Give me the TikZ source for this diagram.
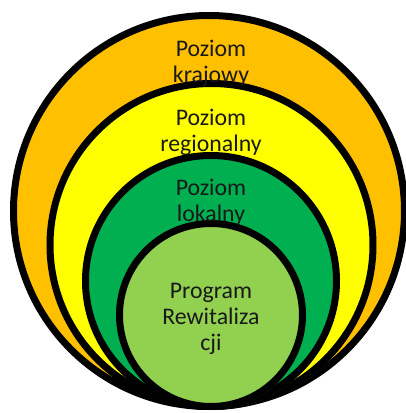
\documentclass[tikz,border=0pt]{standalone}
\usepackage{fontspec}
\setmainfont{Carlito}
\usetikzlibrary{shadows}

\definecolor{krajColor}{HTML}{FFC000}
\definecolor{regColor}{HTML}{FFFF00}
\definecolor{lokColor}{HTML}{00B050}
\definecolor{progColor}{HTML}{92D050}

\tikzset{
  ring/.style={circle, draw=black, line width=7pt, inner sep=0pt,
    drop shadow={shadow xshift=2pt, shadow yshift=-3pt, opacity=0.3}},
  ringtext/.style={align=center, text=black!90,
    font=\fontsize{23.8}{26}\selectfont}
}

\begin{document}
\begin{tikzpicture}[x=1pt,y=1pt]
\useasboundingbox (0,0) rectangle (406,413);

% circles, all touching at the bottom
\node[ring, fill=krajColor, minimum size=391pt] (kraj) at (209,202) {};
\node[ring, fill=regColor, minimum size=323pt] (region) at (211.5,168) {};
\node[ring, fill=lokColor, minimum size=251pt] (lokal) at (211,132) {};
\node[ring, fill=progColor, minimum size=183pt] (program) at (211,98) {};

% labels
\node[ringtext] (krajText) at (211,350) {Poziom\\krajowy};
\node[ringtext] (regionText) at (211,281) {Poziom\\regionalny};
\node[ringtext] (lokalText) at (211,211) {Poziom\\lokalny};
\node[ringtext] (programText) at (211,94) {Program\\Rewitaliza\\cji};
\end{tikzpicture}
\end{document}
